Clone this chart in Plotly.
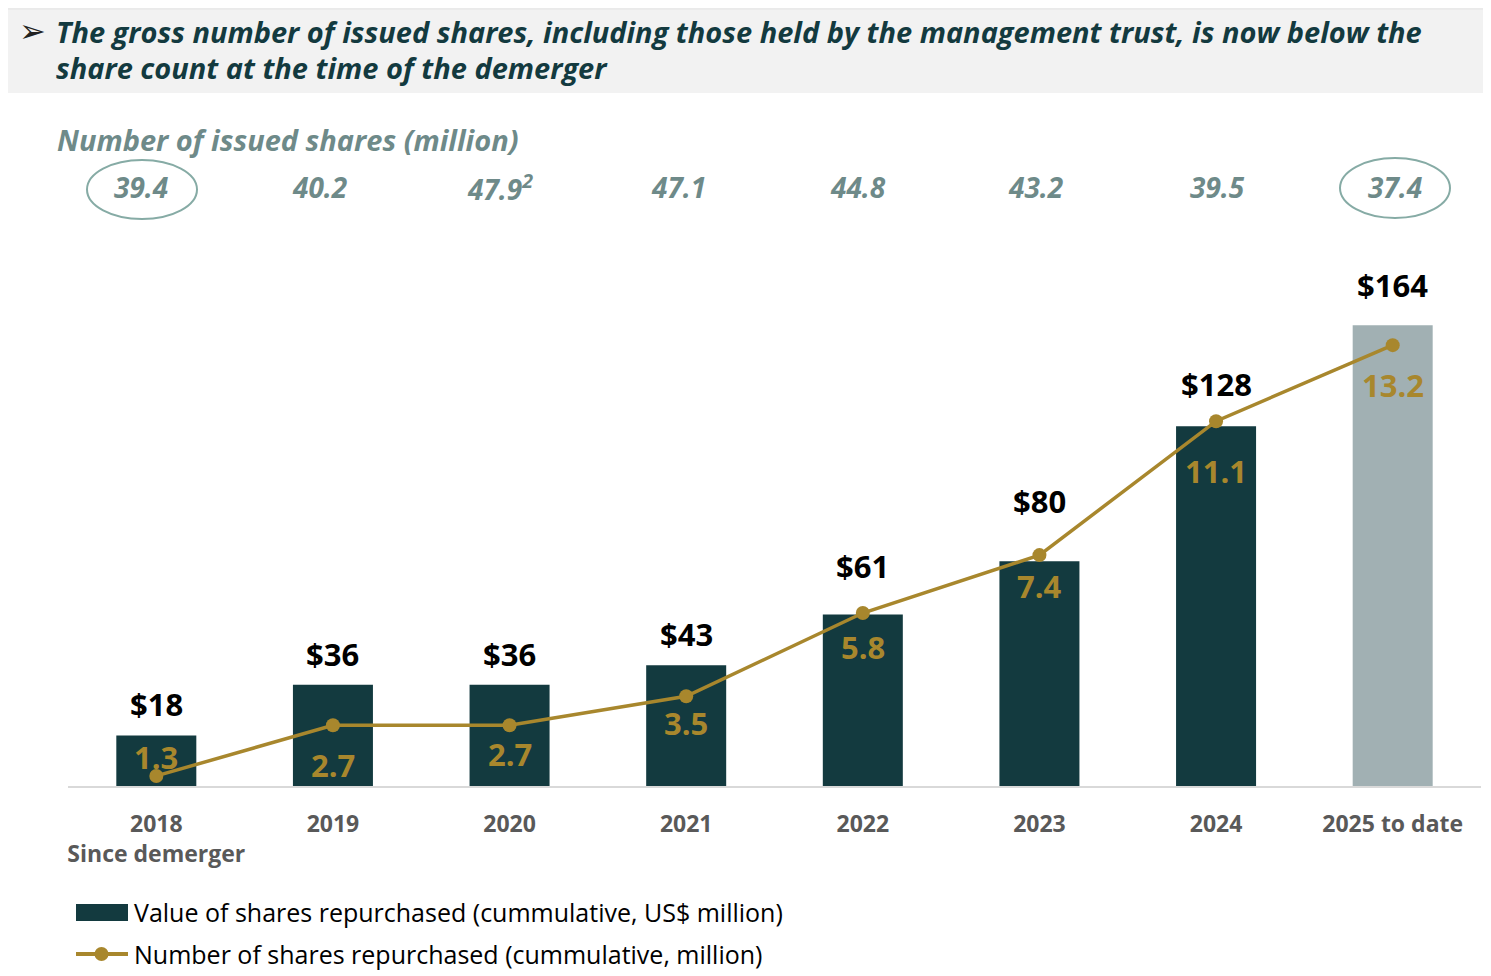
import plotly.graph_objects as go

# ---------------- data ----------------
categories = ["2018", "2019", "2020", "2021", "2022", "2023", "2024", "2025 to date"]
tick_labels = ["<b>2018</b><br><b>Since demerger</b>", "<b>2019</b>", "<b>2020</b>", "<b>2021</b>",
               "<b>2022</b>", "<b>2023</b>", "<b>2024</b>", "<b>2025 to date</b>"]
value_repurchased = [18, 36, 36, 43, 61, 80, 128, 164]          # US$ million, cumulative
shares_repurchased = [1.3, 2.7, 2.7, 3.5, 5.8, 7.4, 11.1, 13.2]  # million, cumulative
issued_shares = ["39.4", "40.2", "47.9<sup>2</sup>", "47.1", "44.8", "43.2", "39.5", "37.4"]
legend_labels = ["Value of shares repurchased (cummulative, US$ million)",
                 "Number of shares repurchased (cummulative, million)"]
header_lines = ["The gross number of issued shares, including those held by the management trust, is now below the",
                "share count at the time of the demerger"]

# ---------------- styles / layout helpers ----------------
# page body has an 8px margin, so the figure is sized/offset to compensate
OFF = 8
W, H = 1483, 968
PLOT_L, PLOT_R, PLOT_T, PLOT_B = 68, 1481, 230, 786   # plot area in page pixels
L = PLOT_L - OFF
T = PLOT_T - OFF
R = W - (PLOT_R - OFF)
B = H - (PLOT_B - OFF)
PW, PH = PLOT_R - PLOT_L, PLOT_B - PLOT_T
DARK = "#133a3f"
GREY_BAR = "#a1b0b3"
GOLD = "#a8872d"
SLATE = "#6e8a89"
OVAL = "#86aba5"
FONT = "Open Sans"

bar_colors = [DARK] * 7 + [GREY_BAR]
value_label_shift = [31, 31, 31, 31, 49, 60, 42, 40]          # px above bar top
count_label_shift = [19, -40, -29, -27, -34, -31, -50, -40]   # px relative to line point
issued_xshift = [-15, -13, -10, -8, -5, -3, 1, 3]


def px_x(px):
    return (px - PLOT_L) / PW


def px_y(py):
    return (PLOT_B - py) / PH


fig = go.Figure()

fig.add_trace(go.Bar(
    x=categories, y=value_repurchased, marker=dict(color=bar_colors, line=dict(width=0)),
    name=legend_labels[0], yaxis="y", cliponaxis=False, showlegend=False,
))
fig.add_trace(go.Scatter(
    x=categories, y=shares_repurchased, mode="lines+markers",
    line=dict(color=GOLD, width=3.5), marker=dict(color=GOLD, size=14),
    name=legend_labels[1], yaxis="y2", cliponaxis=False, showlegend=False,
))

annotations = []
# value labels ($)
for i, v in enumerate(value_repurchased):
    annotations.append(dict(
        x=i, y=v, xref="x", yref="y", text=f"<b>${v}</b>", showarrow=False,
        yshift=value_label_shift[i], yanchor="middle",
        font=dict(family=FONT, size=31, color="black"),
    ))
# count labels (gold)
for i, v in enumerate(shares_repurchased):
    annotations.append(dict(
        x=i, y=v, xref="x", yref="y2", text=f"<b>{v}</b>", showarrow=False,
        yshift=count_label_shift[i], yanchor="middle",
        font=dict(family=FONT, size=31, color=GOLD),
    ))
# issued shares row
for i, s in enumerate(issued_shares):
    annotations.append(dict(
        x=i, y=px_y(187), xref="x", yref="paper", text=f"<b><i>{s}</i></b>", showarrow=False,
        xshift=issued_xshift[i], yanchor="middle",
        font=dict(family=FONT, size=28, color=SLATE),
    ))
# subtitle
annotations.append(dict(
    x=px_x(55), y=px_y(140), xref="paper", yref="paper", xanchor="left", yanchor="middle",
    text="<b><i>Number of issued shares (million)</i></b>", showarrow=False,
    font=dict(family=FONT, size=29, color=SLATE),
))
# header
annotations.append(dict(
    x=px_x(17), y=px_y(31), xref="paper", yref="paper", xanchor="left", yanchor="middle",
    text="➢", showarrow=False, font=dict(family="DejaVu Sans", size=32, color="#222222"),
))
for txt, hy in zip(header_lines, [31, 67]):
    annotations.append(dict(
        x=px_x(54), y=px_y(hy), xref="paper", yref="paper", xanchor="left", yanchor="middle", align="left",
        text=f"<b><i>{txt}</i></b>", showarrow=False, font=dict(family=FONT, size=29, color=DARK),
    ))
# custom legend text
for txt, ly in zip(legend_labels, [912, 954]):
    annotations.append(dict(
        x=px_x(132), y=px_y(ly), xref="paper", yref="paper", xanchor="left", yanchor="middle",
        text=txt, showarrow=False, font=dict(family=FONT, size=25, color="black"),
    ))

shapes = [
    dict(type="rect", xref="paper", yref="paper", x0=px_x(0), x1=px_x(1491), y0=px_y(93), y1=px_y(2),
         fillcolor="#f2f2f2", line=dict(width=0), layer="below"),
    dict(type="line", xref="paper", yref="paper", x0=px_x(0), x1=px_x(1491), y0=px_y(9), y1=px_y(9),
         line=dict(color="#e3e3e3", width=1)),
    dict(type="circle", xref="paper", yref="paper", x0=px_x(87), x1=px_x(197), y0=px_y(219), y1=px_y(160),
         line=dict(color=OVAL, width=2)),
    dict(type="circle", xref="paper", yref="paper", x0=px_x(1340), x1=px_x(1450), y0=px_y(218), y1=px_y(158),
         line=dict(color=OVAL, width=2)),
    # legend swatches
    dict(type="rect", xref="paper", yref="paper", x0=px_x(76), x1=px_x(128), y0=px_y(921), y1=px_y(904),
         fillcolor=DARK, line=dict(width=0)),
    dict(type="line", xref="paper", yref="paper", x0=px_x(76), x1=px_x(128), y0=px_y(954), y1=px_y(954),
         line=dict(color=GOLD, width=4)),
    dict(type="circle", xref="paper", yref="paper", x0=px_x(94.5), x1=px_x(108.5), y0=px_y(961), y1=px_y(947),
         fillcolor=GOLD, line=dict(width=0)),
]

fig.update_layout(
    width=W, height=H, autosize=False,
    margin=dict(l=L, r=R, t=T, b=B, pad=0),
    paper_bgcolor="white", plot_bgcolor="white",
    bargap=0.547,
    xaxis=dict(type="category", tickvals=categories, ticktext=tick_labels, showgrid=False,
               showline=True, linecolor="#d9d9d9", linewidth=2, ticks="", ticklabelstandoff=16,
               tickfont=dict(family=FONT, size=23, color="#595959"), range=[-0.5, 7.5]),
    yaxis=dict(range=[0, PH / 2.81], visible=False, showgrid=False, zeroline=False),
    yaxis2=dict(range=[(823 - PLOT_B) / 36.2, (823 - PLOT_T) / 36.2], overlaying="y", visible=False,
                showgrid=False, zeroline=False),
    showlegend=False,
    annotations=annotations, shapes=shapes,
)

fig.write_html("out.html")
